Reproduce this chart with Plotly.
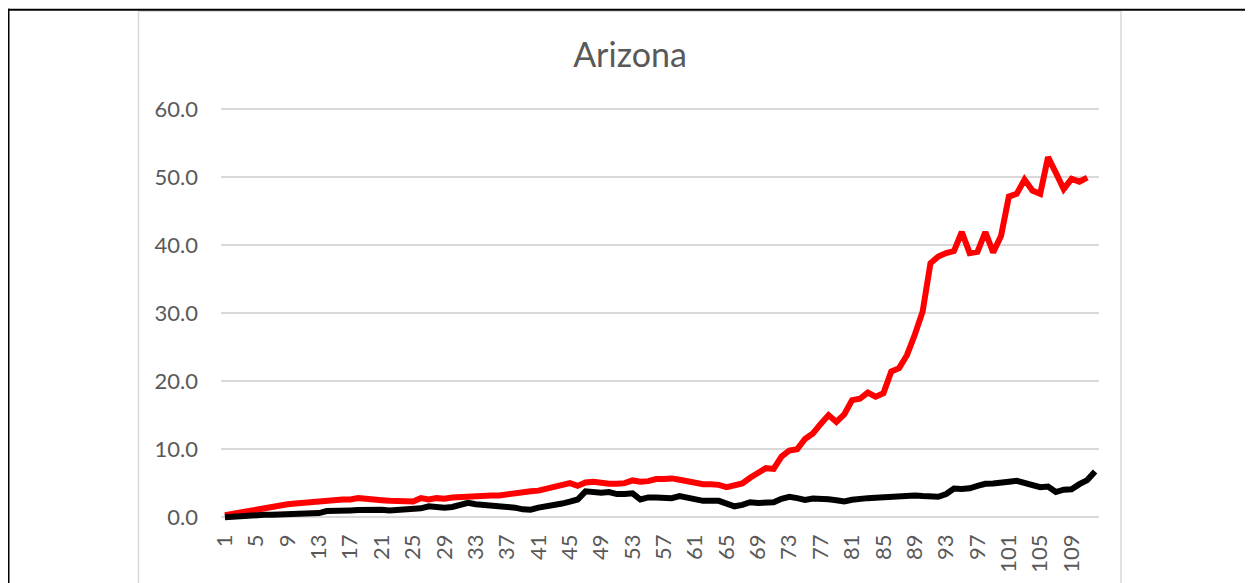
import plotly.graph_objects as go

categories = list(range(1, 113))

red_values = [
    0.3, 0.5, 0.7, 0.9, 1.2, 1.4, 1.6, 1.9, 1.9, 2.0,
    2.1, 2.2, 2.3, 2.6, 2.7, 2.6, 2.6, 2.8, 2.7, 2.7,
    2.5, 2.4, 2.4, 2.4, 2.3, 2.8, 2.6, 2.8, 2.7, 2.9,
    3.0, 3.1, 3.1, 3.1, 3.2, 3.2, 3.4, 3.5, 3.6, 3.8,
    3.9, 4.2, 4.4, 4.7, 5.0, 4.6, 5.1, 5.2, 5.0, 4.9,
    4.9, 5.0, 5.4, 5.2, 5.3, 5.6, 5.6, 5.7, 5.5, 5.3,
    4.9, 4.85, 4.85, 4.75, 4.4, 4.6, 4.95, 5.8, 6.5, 7.2,
    7.1, 8.9, 9.8, 10.0, 11.5, 12.3, 13.7, 15.0, 14.0, 15.1,
    17.2, 17.4, 18.3, 17.7, 18.2, 21.4, 21.9, 23.8, 26.8, 30.2,
    37.3, 38.3, 38.8, 39.1, 41.9, 38.8, 39.0, 41.9, 38.9, 41.3,
    47.1, 47.5, 49.6, 48.0, 47.5, 52.9, 50.6, 48.2, 49.7, 49.3,
    49.9, None,
]

black_values = [
    0.0, 0.1, 0.15, 0.2, 0.3, 0.35, 0.35, 0.4, 0.4, 0.45,
    0.5, 0.6, 0.6, 0.9, 1.0, 1.0, 1.0, 1.05, 1.1, 1.1,
    1.1, 1.0, 1.05, 1.1, 1.3, 1.3, 1.6, 1.45, 1.4, 1.5,
    1.8, 2.1, 1.9, 1.8, 1.75, 1.7, 1.6, 1.4, 1.15, 1.1,
    1.4, 1.6, 1.6, 2.0, 2.3, 2.6, 3.8, 3.6, 3.6, 3.7,
    3.4, 3.4, 3.5, 2.6, 2.9, 2.9, 2.8, 2.8, 3.1, 2.8,
    2.5, 2.4, 2.4, 2.4, 2.0, 1.6, 1.8, 2.2, 2.1, 2.1,
    2.2, 2.7, 3.0, 2.8, 2.55, 2.75, 2.75, 2.65, 2.5, 2.3,
    2.55, 2.75, 2.8, 2.85, 2.95, 3.0, 3.0, 3.1, 3.2, 3.1,
    3.1, 3.0, 3.4, 4.2, 4.15, 4.25, 4.6, 4.9, 4.95, 5.0,
    5.2, 5.35, 5.1, 4.65, 4.4, 4.5, 3.7, 4.05, 4.1, 4.85,
    5.45, 6.7,
]

x_tick_values = list(range(1, 113, 4))
x_tick_labels = [str(v) for v in x_tick_values]
y_tick_values = [0, 10, 20, 30, 40, 50, 60]
y_tick_labels = ["0.0", "10.0", "20.0", "30.0", "40.0", "50.0", "60.0"]

title_text = "Arizona"

# the page body adds an 8px offset; work in page pixels and shift back
OFF = 8
W, H = 1253 - OFF, 583 - OFF
L = 221 - OFF
R = 1253 - 1099
T = 102.2 - OFF
B = 583 - 523.8
PW = W - L - R
PH = H - T - B


def px(x):
    return (x - OFF - L) / PW


def py(y):
    return (H - B - (y - OFF)) / PH


fig = go.Figure()
fig.add_trace(go.Scatter(
    x=categories, y=red_values, mode="lines",
    line=dict(color="#FF0000", width=6), connectgaps=False,
    showlegend=False, hoverinfo="skip",
))
fig.add_trace(go.Scatter(
    x=categories, y=black_values, mode="lines",
    line=dict(color="#000000", width=6),
    showlegend=False, hoverinfo="skip",
))

shapes = [
    # chart area border (light grey)
    dict(type="rect", xref="paper", yref="paper",
         x0=px(138.5), x1=px(1121), y0=py(640), y1=py(11.5),
         line=dict(color="#D9D9D9", width=1.5), layer="below"),
    # document table borders (black)
    dict(type="line", xref="paper", yref="paper",
         x0=px(0), x1=px(1260), y0=py(10), y1=py(10),
         line=dict(color="#000000", width=2)),
    dict(type="line", xref="paper", yref="paper",
         x0=px(8.5), x1=px(8.5), y0=py(9), y1=py(640),
         line=dict(color="#000000", width=2)),
]

fig.update_layout(
    width=W, height=H,
    margin=dict(l=L, r=R, t=T, b=B, pad=0, autoexpand=False),
    paper_bgcolor="white", plot_bgcolor="white",
    font=dict(family="Lato, Carlito, sans-serif", color="#595959"),
    title=dict(text=title_text, x=(630 - OFF) / W, xref="container", xanchor="center",
               y=1 - (55 - OFF) / H, yref="container", yanchor="middle",
               font=dict(size=34, color="#595959", family="Lato, sans-serif")),
    shapes=shapes,
    xaxis=dict(
        range=[0.5, 112.5], tickmode="array", tickvals=x_tick_values,
        ticktext=x_tick_labels, tickangle=-90, showgrid=False, zeroline=False,
        showline=False, ticks="", tickfont=dict(size=22, color="#595959"),
        ticklabelstandoff=5, automargin=False,
    ),
    yaxis=dict(
        range=[-1, 61], tickmode="array", tickvals=y_tick_values,
        ticktext=y_tick_labels, showgrid=True, gridcolor="#D9D9D9", gridwidth=2,
        zeroline=False, showline=False, ticks="",
        tickfont=dict(size=22, color="#595959"), ticklabelstandoff=22,
        automargin=False,
    ),
)

fig.write_html("out.html")
